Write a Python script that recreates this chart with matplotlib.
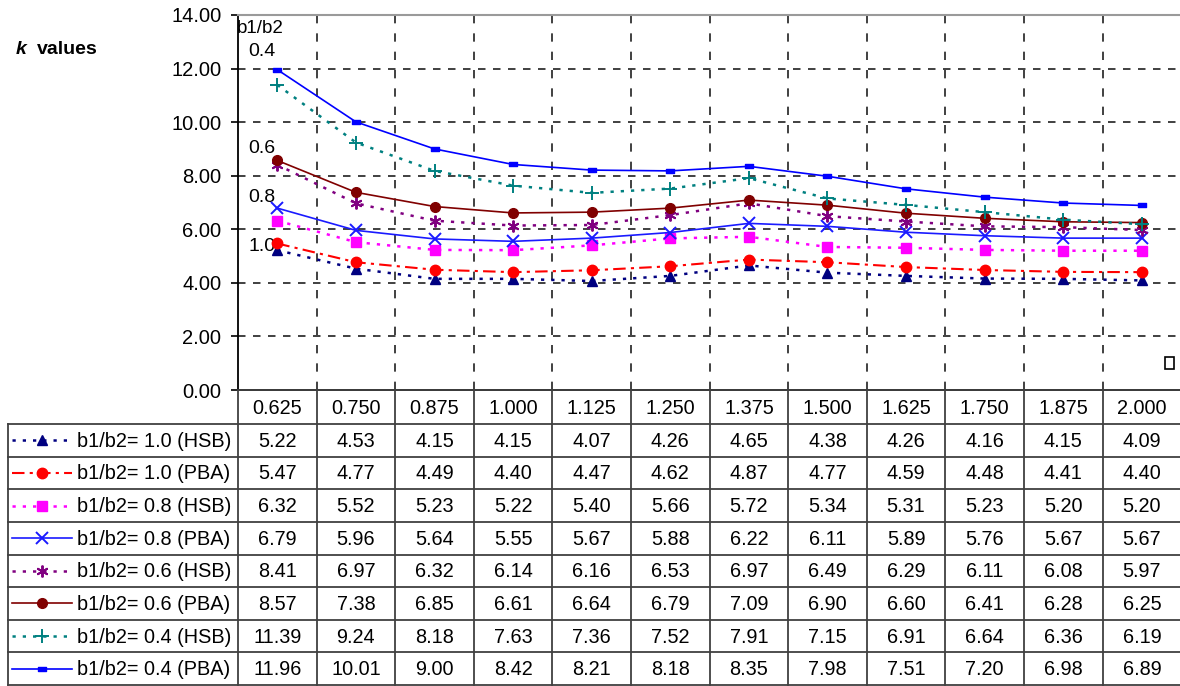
import matplotlib
matplotlib.use("Agg")
import matplotlib.pyplot as plt
from matplotlib.ticker import FormatStrFormatter, MultipleLocator
from matplotlib.patches import Rectangle
from matplotlib.path import Path

plt.rcParams['font.family'] = ['Liberation Sans', 'DejaVu Sans']

# ---- data -------------------------------------------------------------
ratios = ["0.625", "0.750", "0.875", "1.000", "1.125", "1.250",
          "1.375", "1.500", "1.625", "1.750", "1.875", "2.000"]

hsb_10 = [5.22, 4.53, 4.15, 4.15, 4.07, 4.26, 4.65, 4.38, 4.26, 4.16, 4.15, 4.09]
pba_10 = [5.47, 4.77, 4.49, 4.40, 4.47, 4.62, 4.87, 4.77, 4.59, 4.48, 4.41, 4.40]
hsb_08 = [6.32, 5.52, 5.23, 5.22, 5.40, 5.66, 5.72, 5.34, 5.31, 5.23, 5.20, 5.20]
pba_08 = [6.79, 5.96, 5.64, 5.55, 5.67, 5.88, 6.22, 6.11, 5.89, 5.76, 5.67, 5.67]
hsb_06 = [8.41, 6.97, 6.32, 6.14, 6.16, 6.53, 6.97, 6.49, 6.29, 6.11, 6.08, 5.97]
pba_06 = [8.57, 7.38, 6.85, 6.61, 6.64, 6.79, 7.09, 6.90, 6.60, 6.41, 6.28, 6.25]
hsb_04 = [11.39, 9.24, 8.18, 7.63, 7.36, 7.52, 7.91, 7.15, 6.91, 6.64, 6.36, 6.19]
pba_04 = [11.96, 10.01, 9.00, 8.42, 8.21, 8.18, 8.35, 7.98, 7.51, 7.20, 6.98, 6.89]

series_labels = ["b1/b2= 1.0 (HSB)", "b1/b2= 1.0 (PBA)",
                 "b1/b2= 0.8 (HSB)", "b1/b2= 0.8 (PBA)",
                 "b1/b2= 0.6 (HSB)", "b1/b2= 0.6 (PBA)",
                 "b1/b2= 0.4 (HSB)", "b1/b2= 0.4 (PBA)"]
series_values = [hsb_10, pba_10, hsb_08, pba_08, hsb_06, pba_06, hsb_04, pba_04]

# ---- styles -----------------------------------------------------------
dot = (0, (1.3, 2.8))
dashdot = (0, (6, 2.5, 1.5, 2.5))
bar_marker = Path([(-1, -0.45), (1, -0.45), (1, 0.45), (-1, 0.45), (-1, -0.45)],
                  [Path.MOVETO, Path.LINETO, Path.LINETO, Path.LINETO, Path.CLOSEPOLY])
styles = [
    dict(color="#000080", ls=dot, lw=1.8, marker="^", ms=7.5),
    dict(color="#ff0000", ls=dashdot, lw=1.5, marker="o", ms=7.5),
    dict(color="#ff00ff", ls=dot, lw=1.8, marker="s", ms=7),
    dict(color="#1a1aff", ls="-", lw=1.2, marker="x", ms=8, mew=1.4),
    dict(color="#800080", ls=dot, lw=1.8, marker=(6, 2, 0), ms=8.5, mew=1.4),
    dict(color="#800000", ls="-", lw=1.2, marker="o", ms=7),
    dict(color="#008080", ls=dot, lw=1.8, marker="+", ms=9.5, mew=1.4),
    dict(color="#0000ff", ls="-", lw=1.2, marker=bar_marker, ms=5.5),
]

# ---- figure layout (pixel geometry at 100 dpi) -------------------------
W, H = 1180, 686
fig = plt.figure(figsize=(W / 100, H / 100), dpi=100)
x_left, col_w, ncol = 238, 78.6, len(ratios)
x_right = x_left + ncol * col_w
y_top, y_axis, y_bottom = 15, 390, 685
tab_left = 8

ax = fig.add_axes([x_left / W, (H - y_axis) / H, (x_right - x_left) / W, (y_axis - y_top) / H])
ax.set_xlim(0, ncol)
ax.set_ylim(0, 14)
xs = [i + 0.5 for i in range(ncol)]

# grid
for yv in range(2, 14, 2):
    ax.axhline(yv, color="#202020", lw=1.2, ls=(0, (4.5, 4.5)), zorder=1)
for k in range(1, ncol):
    ax.axvline(k, color="#202020", lw=1.2, ls=(0, (5, 6)), zorder=1)

for vals, st in zip(series_values, styles):
    st = dict(st)
    ax.plot(xs, vals, color=st.pop("color"), ls=st.pop("ls"), lw=st.pop("lw"),
            marker=st.pop("marker"), markersize=st.pop("ms"),
            markeredgewidth=st.pop("mew", 1.0), zorder=3, clip_on=False)

ax.spines["right"].set_visible(False)
ax.spines["top"].set_color("#9a9a9a")
ax.spines["top"].set_linewidth(1.5)
ax.spines["left"].set_linewidth(1.3)
ax.spines["bottom"].set_linewidth(1.3)
ax.yaxis.set_major_locator(MultipleLocator(2))
ax.yaxis.set_major_formatter(FormatStrFormatter("%.2f"))
ax.tick_params(axis="y", direction="out", length=5, width=1.2, pad=7, labelsize=14.5)
ax.set_xticks([])

# inline ratio labels
ax.text(-0.02, 13.5, "b1/b2", ha="left", va="center", fontsize=13.5)
for txt, yv in [("0.4", 12.62), ("0.6", 9.03), ("0.8", 7.17), ("1.0", 5.37)]:
    ax.text(0.3, yv, txt, ha="center", va="center", fontsize=14, zorder=2)

fig.text(16 / W, 1 - 50 / H, "k", fontsize=14, fontweight="bold", fontstyle="italic",
         va="center", ha="left")
fig.text(37 / W, 1 - 50 / H, "values", fontsize=14, fontweight="bold",
         va="center", ha="left")

fig.add_artist(Rectangle((1165 / W, 1 - 369 / H), 9 / W, 12 / H, transform=fig.transFigure,
                         fill=False, edgecolor="black", lw=1.2))

# ---- data table --------------------------------------------------------
tx0 = (tab_left - x_left) / col_w
hdr = (424 - y_axis) / ((y_bottom - 424) / 8)
nrow = len(series_labels)
tax = fig.add_axes([tab_left / W, (H - y_bottom) / H, (x_right - tab_left) / W, (y_bottom - y_axis) / H])
tax.set_xlim(tx0, ncol)
tax.set_ylim(hdr + nrow, 0)
tax.axis("off")

lc, lw_t = "#404040", 1.3
tax.plot([0, ncol], [0, 0], color=lc, lw=lw_t, clip_on=False)
for r in range(nrow + 1):
    tax.plot([tx0, ncol], [hdr + r, hdr + r], color=lc, lw=lw_t, clip_on=False)
tax.plot([tx0, tx0], [hdr, hdr + nrow], color=lc, lw=lw_t, clip_on=False)
for k in range(ncol + 1):
    tax.plot([k, k], [0, hdr + nrow], color=lc, lw=lw_t, clip_on=False)

fs = 14.3
for i, lab in enumerate(ratios):
    tax.text(i + 0.5, hdr / 2 + 0.05, lab, ha="center", va="center", fontsize=fs)

sx0 = (12 - x_left) / col_w
sx1 = (72 - x_left) / col_w
smx = (42 - x_left) / col_w
stx = (77 - x_left) / col_w
for r, (lab, vals, st) in enumerate(zip(series_labels, series_values, styles)):
    yc = hdr + r + 0.5
    tax.plot([sx0, sx1], [yc, yc], color=st["color"], ls=st["ls"], lw=st["lw"], clip_on=False)
    tax.plot([smx], [yc], color=st["color"], marker=st["marker"],
             markersize=st["ms"], markeredgewidth=st.get("mew", 1.0), ls="none",
             clip_on=False)
    tax.text(stx, yc + 0.03, lab, ha="left", va="center", fontsize=fs)
    for i, v in enumerate(vals):
        tax.text(i + 0.5, yc + 0.03, f"{v:.2f}", ha="center", va="center", fontsize=fs)

fig.savefig("out.png", dpi=100)
